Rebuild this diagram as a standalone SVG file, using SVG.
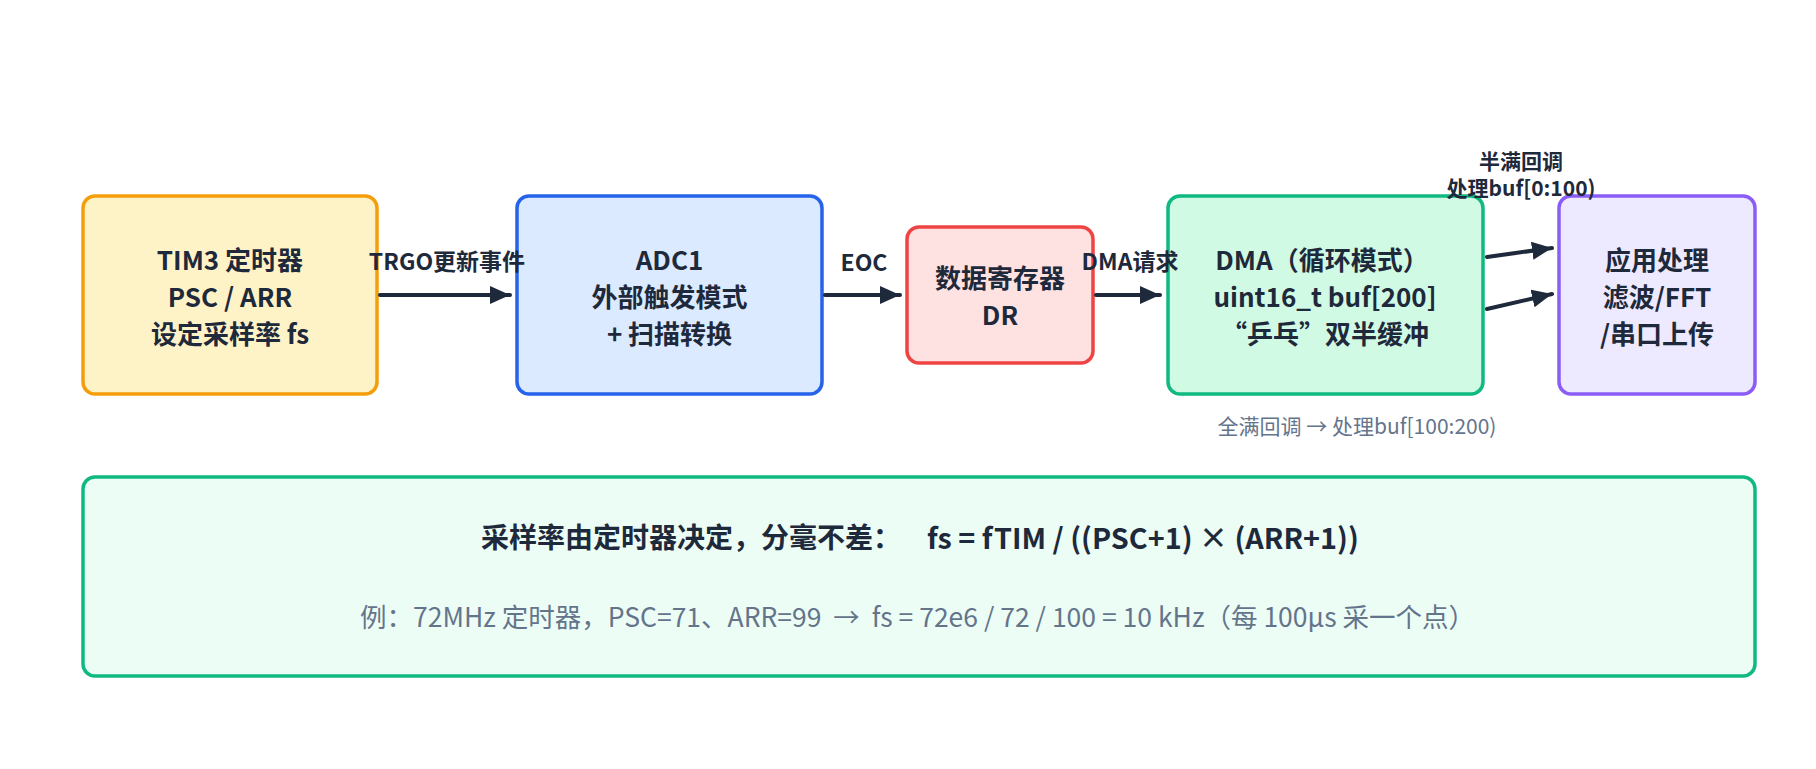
<svg xmlns="http://www.w3.org/2000/svg" width="1816" height="769" viewBox="0 0 1816 769">
<style>
text { font-family: "Noto Sans CJK SC", "Noto Sans", sans-serif; fill: #1e293b; }
.nt { font-size: 26px; font-weight: 700; text-anchor: middle; dominant-baseline: central; }
.lb { font-size: 23px; font-weight: 700; text-anchor: middle; dominant-baseline: central; }
.cb { font-size: 21px; font-weight: 700; text-anchor: middle; dominant-baseline: central; }
.note { font-size: 21px; font-weight: 400; fill: #64748b; text-anchor: middle; dominant-baseline: central; }
.box { stroke-width: 3.5; }
.edge { stroke: #1e293b; stroke-width: 4; fill: none; stroke-linecap: round; }
</style>
<defs>
<marker id="ah" markerUnits="userSpaceOnUse" markerWidth="22" markerHeight="20" refX="20" refY="9" orient="auto">
<path d="M0,0 L20,9 L0,18 z" fill="#1e293b"/>
</marker>
</defs>
<rect width="1816" height="769" fill="#ffffff"/>

<g id="tim3">
<rect class="box" x="83" y="196" width="294" height="198" rx="12" fill="#fef3c7" stroke="#f59e0b"/>
<text class="nt" x="230" y="258">TIM3 定时器</text>
<text class="nt" x="230" y="295">PSC / ARR</text>
<text class="nt" x="230" y="332">设定采样率 fs</text>
</g>

<g id="adc1">
<rect class="box" x="517" y="196" width="305" height="198" rx="12" fill="#dbeafe" stroke="#2563eb"/>
<text class="nt" x="669.5" y="258">ADC1</text>
<text class="nt" x="669.5" y="295">外部触发模式</text>
<text class="nt" x="669.5" y="332">+ 扫描转换</text>
</g>

<g id="dr">
<rect class="box" x="907" y="227" width="186" height="136" rx="12" fill="#fee2e2" stroke="#ef4444"/>
<text class="nt" x="1000" y="276">数据寄存器</text>
<text class="nt" x="1000" y="313">DR</text>
</g>

<g id="dma">
<rect class="box" x="1168" y="196" width="315" height="198" rx="12" fill="#d1fae5" stroke="#10b981"/>
<text class="nt" x="1322" y="258">DMA（循环模式）</text>
<text class="nt" x="1325" y="295">uint16_t buf[200]</text>
<text class="nt" x="1325" y="332">“乒乓”双半缓冲</text>
</g>

<g id="app">
<rect class="box" x="1559" y="196" width="196" height="198" rx="12" fill="#ede9fe" stroke="#8b5cf6"/>
<text class="nt" x="1657" y="258">应用处理</text>
<text class="nt" x="1657" y="295">滤波/FFT</text>
<text class="nt" x="1657" y="332">/串口上传</text>
</g>

<g id="summary">
<rect class="box" x="83" y="477" width="1672" height="199" rx="12" fill="#ecfdf5" stroke="#10b981"/>
<text x="481" y="536" font-size="28" font-weight="700" dominant-baseline="central">采样率由定时器决定，分毫不差：<tspan x="927" font-size="28.8">fs = fTIM / ((PSC+1) × (ARR+1))</tspan></text>
<text x="360" y="615" font-size="26.5" font-weight="400" style="fill:#64748b" dominant-baseline="central" xml:space="preserve">例：72MHz 定时器，PSC=71、ARR=99  →  fs = 72e6 / 72 / 100 = 10 kHz（每 100µs 采一个点）</text>
</g>

<g id="connectors">
<line class="edge" x1="380" y1="295" x2="510" y2="295" marker-end="url(#ah)"/>
<line class="edge" x1="825" y1="295" x2="900" y2="295" marker-end="url(#ah)"/>
<line class="edge" x1="1096" y1="295" x2="1160" y2="295" marker-end="url(#ah)"/>
<line class="edge" x1="1487" y1="257" x2="1552" y2="248" marker-end="url(#ah)"/>
<line class="edge" x1="1487" y1="309" x2="1552" y2="294" marker-end="url(#ah)"/>
<text class="lb" x="447" y="260">TRGO更新事件</text>
<text class="lb" x="864" y="261">EOC</text>
<text class="lb" x="1130" y="260">DMA请求</text>
<text class="cb" x="1521" y="160">半满回调</text>
<text class="cb" x="1521" y="187">处理buf[0:100)</text>
<text class="note" x="1357" y="425">全满回调 → 处理buf[100:200)</text>
</g>
</svg>
